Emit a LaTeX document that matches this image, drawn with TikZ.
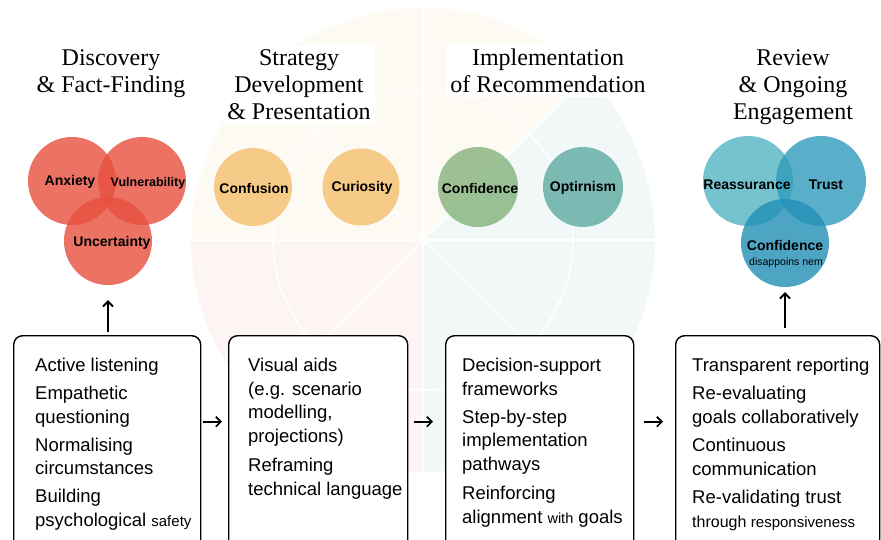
\documentclass[tikz,border=0pt]{standalone}
\usepackage{fontspec}
\setmainfont{Liberation Serif}
\setsansfont{Liberation Sans}
\usetikzlibrary{arrows.meta}

\definecolor{discred}{RGB}{232,80,62}
\definecolor{stratgold}{RGB}{245,190,108}
\definecolor{implgreen}{RGB}{132,178,124}
\definecolor{implteal}{RGB}{94,170,162}
\definecolor{revlight}{RGB}{82,181,195}
\definecolor{revmid}{RGB}{48,155,188}
\definecolor{revdark}{RGB}{33,143,181}
\definecolor{wheelcream}{RGB}{252,248,236}
\definecolor{wheelrose}{RGB}{251,239,238}
\definecolor{wheelteal}{RGB}{232,244,243}

\begin{document}
\begin{tikzpicture} [
            x=1pt, y=-1pt,
            mood/.style={circle,minimum size=#1,inner sep=0pt,draw=none,fill opacity=0.8},
            moodtext/.style={font=\sffamily\bfseries\fontsize{14}{16}\selectfont,inner sep=0pt},
            phase/.style={anchor=north,align=center,fill=white,inner sep=4pt,
                font=\rmfamily\fontsize{24}{27}\selectfont},
            card/.style={draw,line width=1.4pt,rounded corners=9pt,anchor=north west,
                minimum height=215pt,fill=white},
            cardtext/.style={anchor=north west,align=left,inner sep=0pt,
                font=\sffamily\fontsize{18.5}{23.5}\selectfont},
            flow/.style={draw,line width=1.7pt,-{Straight Barb[length=5pt,width=10pt]}},
            rise/.style={draw,line width=1.9pt,-{Straight Barb[length=5pt,width=10pt]}},
        ]
        \useasboundingbox (0,0) rectangle (881,540);
        \clip (0,0) rectangle (881,540);
        \fill[white] (0,0) rectangle (881,540);

        % the pale wheel in the back
        \coordinate (hub) at (423,240);
        \begin{scope}[fill opacity=0.6]
            \fill[wheelcream] (hub) -- ++(-45:232) arc[start angle=-45, end angle=-180, radius=232] -- cycle;
            \fill[wheelrose] (hub) -- ++(-180:232) arc[start angle=-180, end angle=-270, radius=232] -- cycle;
            \fill[wheelteal] (hub) -- ++(90:232) arc[start angle=90, end angle=-45, radius=232] -- cycle;
        \end{scope}
        \draw[white,line width=1.5pt] (hub) circle[radius=150];
        \foreach \a in {0,45,...,315}
            \draw[white,line width=1.5pt] (hub) -- ++(\a:232);

        % phase titles
        \node[phase] (disc-title) at (111,45) {Discovery\\ \& Fact-Finding};
        \node[phase] (strat-title) at (299,45) {Strategy\\ Development\\ \& Presentation};
        \node[phase] (impl-title) at (548,45) {Implementation\\ of Recommendation};
        \node[phase] (rev-title) at (793,45) {Review\\ \& Ongoing\\ Engagement};

        % First we draw the emotion circles
        \foreach \pos/\name/\col/\size in {
                % discovery
                {(72,181)/anxiety/discred/88},
                {(142,181)/vulner/discred/88},
                {(108,241)/uncert/discred/88},
                % strategy
                {(253,187)/confusion/stratgold/78},
                {(361,187)/curiosity/stratgold/77},
                % implementation
                {(478,187)/confid/implgreen/80},
                {(583,187)/optim/implteal/80},
                % review
                {(748,181)/reassur/revlight/90},
                {(821,181)/trust/revmid/90},
                {(785,243)/revconf/revdark/88}}
            \node[mood=\size pt,fill=\col] (\name) at \pos {};

        % then their labels on top
        \foreach \pos/\name/\label in {
                {(70,182)/anxiety-l/Anxiety},
                {(112,243)/uncert-l/Uncertainty},
                {(254,188)/confusion-l/Confusion},
                {(362,188)/curiosity-l/Curiosity},
                {(480,188)/confid-l/Confidence},
                {(583,188)/optim-l/Optirnism},
                {(747,185)/reassur-l/Reassurance},
                {(826,185)/trust-l/Trust},
                {(785,245)/revconf-l/Confidence}}
            \node[moodtext] (\name) at \pos {\label};
        \node[moodtext,font=\sffamily\bfseries\fontsize{12.5}{14}\selectfont] (vulner-l) at (148,183) {Vulnerability};
        \node[inner sep=0pt,font=\sffamily\fontsize{10.5}{12}\selectfont] (revconf-s) at (786,263) {disappoins nem};

        % the practice cards
        \foreach \pos/\name/\w in {
                {(13,335)/disc-box/187},
                {(228,335)/strat-box/179},
                {(445,335)/impl-box/188},
                {(675,335)/rev-box/204}}
            \node[card,minimum width=\w pt] (\name) at \pos {};

        \node[cardtext] (disc-text) at (35,358) {Active listening\\[4.5pt]
            Empathetic\\ questioning\\[4.5pt]
            Normalising\\ circumstances\\[4.5pt]
            Building\\ psychological {\fontsize{15}{23.5}\selectfont safety}};
        \node[cardtext] (strat-text) at (248,358) {Visual aids\\
            (e.g. scenario\\ modelling,\\ projections)\\[6pt]
            Reframing\\ technical language};
        \node[cardtext] (impl-text) at (462,358) {Decision-support\\ frameworks\\[4.5pt]
            Step-by-step\\ implementation\\ pathways\\[6pt]
            Reinforcing\\ alignment {\fontsize{14.5}{23.5}\selectfont with} goals};
        \node[cardtext] (rev-text) at (692,358) {Transparent reporting\\[4.5pt]
            Re-evaluating\\ goals collaboratively\\[5pt]
            Continuous\\ communication\\[5pt]
            Re-validating trust\\ {\fontsize{16}{23.5}\selectfont through
            \fontsize{15}{23.5}\selectfont responsiveness}};

        % Connect the cards and the circles
        \foreach \source/\dest/\s/\e in {
                disc-box/strat-box/2/6,
                strat-box/impl-box/6/12,
                impl-box/rev-box/10/12}
            \path[flow,shorten <=\s pt,shorten >=\e pt] ([yshift=21.5pt]\source.east) -- ([yshift=21.5pt]\dest.west);
        \path[rise,shorten <=3pt,shorten >=15pt] (disc-box.north -| uncert) -- (uncert);
        \path[rise,shorten <=7pt,shorten >=5pt] (rev-box.north -| revconf) -- (revconf);
    \end{tikzpicture}
\end{document}
